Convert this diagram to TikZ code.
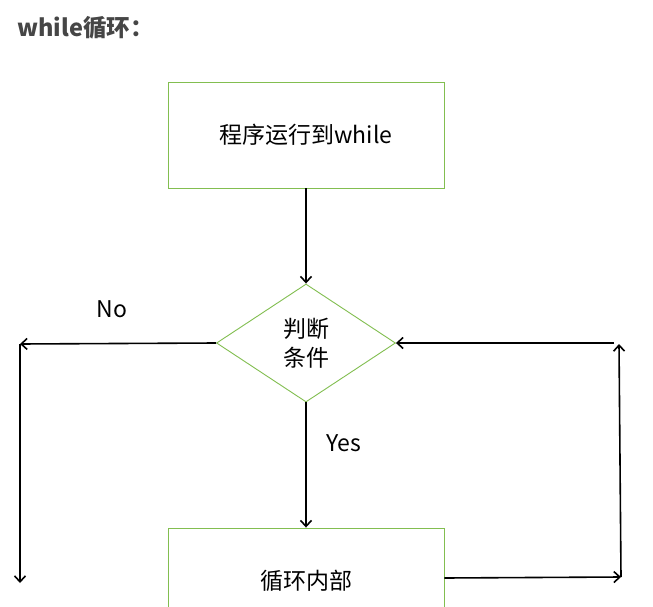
\documentclass[tikz,border=0pt]{standalone}
\usepackage{fontspec}
\setmainfont{Noto Sans CJK SC}
\usetikzlibrary{shapes.geometric,arrows.meta}
\definecolor{boxgreen}{RGB}{130,190,80}
\definecolor{titlegray}{RGB}{70,70,70}

\begin{document}
\begin{tikzpicture}[
  x=1pt, y=-1pt,
  stepbox/.style={rectangle, draw=boxgreen, line width=0.9pt, minimum width=276pt, minimum height=106pt, font=\fontsize{23}{29}\selectfont},
  testbox/.style={diamond, draw=boxgreen, line width=0.9pt, minimum width=179pt, minimum height=118pt, inner sep=0pt, align=center, font=\fontsize{23}{29}\selectfont},
  arr/.style={-{Straight Barb[length=6pt,width=11pt]}, line width=1.6pt},
  lbl/.style={font=\fontsize{23}{29}\selectfont}
]
\useasboundingbox (0,0) rectangle (653,607);
\clip (0,0) rectangle (653,607);
\fill[white] (0,0) rectangle (653,607);

% title
\node[anchor=west, inner sep=0pt, text=titlegray, font=\fontsize{23.5}{27}\bfseries\selectfont] (title) at (17,28) {while循环：};

% nodes
\node[stepbox] (start) at (306,135) {程序运行到while};
\node[testbox] (cond) at (306,343) {判断\\条件};
\node[stepbox] (body) at (306,581) {循环内部};

% free ends
\coordinate (nl) at (20,344);
\coordinate (nb) at (20,583);
\coordinate (rb) at (621,577);
\coordinate (rt) at (619,344);
\coordinate (rt2) at (614,343);

% connectors
\draw[arr] (start) -- (cond);
\draw[arr] (cond) -- (body);
\draw[arr] (cond.west) -- (nl);
\draw[arr] (nl) -- (nb);
\draw[arr] (body.east |- 0,578) -- (rb);
\draw[arr] (rb) -- (rt);
\draw[arr] (rt2) -- (cond.east);

% labels
\node[lbl] (no) at (112,309) {No};
\node[lbl] (yes) at (344,443) {Yes};
\end{tikzpicture}
\end{document}
